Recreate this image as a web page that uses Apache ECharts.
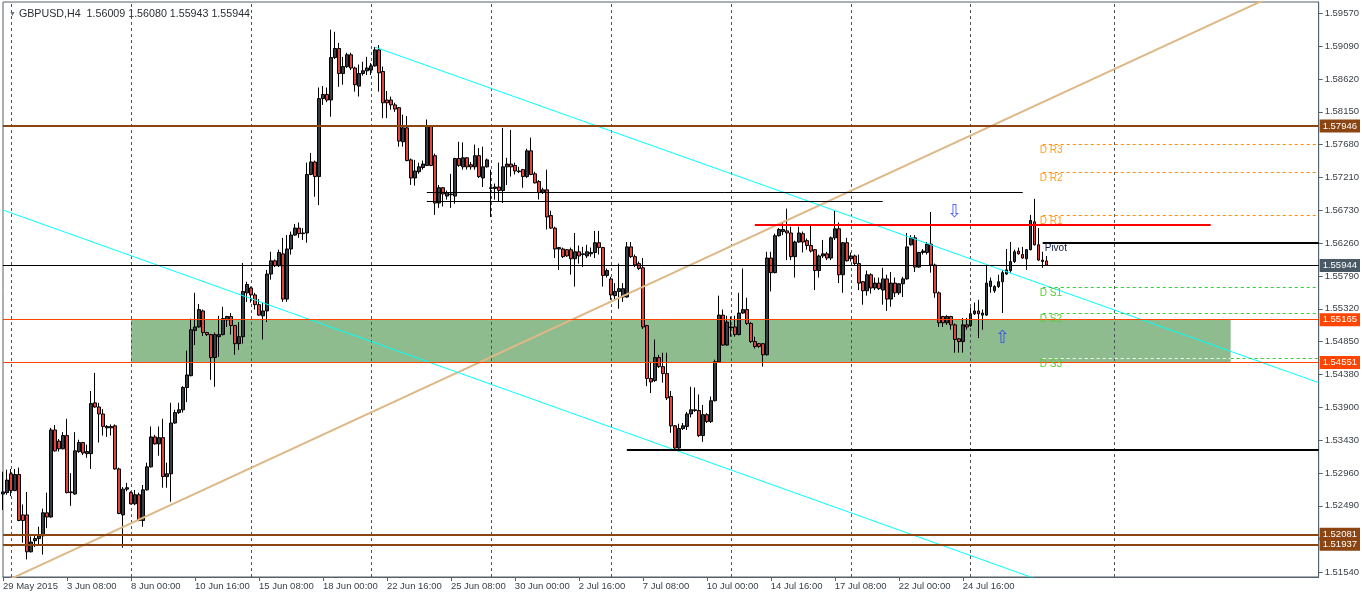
<!DOCTYPE html>
<html><head><meta charset="utf-8">
<script src="https://cdn.jsdelivr.net/npm/echarts@6/dist/echarts.min.js"></script>
<style>html,body{margin:0;padding:0;background:#fff}#c{width:1362px;height:594px}</style>
</head><body><div id="c"></div>
<script>
// ---------- DATA ----------
const titleText = 'GBPUSD,H4  1.56009 1.56080 1.55943 1.55944';
const yTicks = [1.5957,1.5909,1.5862,1.5815,1.5768,1.5721,1.5673,1.5626,1.5579,1.5532,1.5485,1.5438,1.5390,1.5343,1.5296,1.5249,1.5202,1.5154];

const opens = [
1.5266,1.5268,1.5295,1.5271,1.5294,1.5236,1.5236,1.5183,1.5199,1.5202,
1.5206,1.5239,1.5233,1.5358,1.5342,1.5331,1.5350,1.5269,1.5266,1.5327,
1.5340,1.5324,1.5324,1.5397,1.5391,1.5381,1.5361,1.5363,1.5364,1.5302,
1.5236,1.5273,1.5268,1.5252,1.5265,1.5228,1.5272,1.5305,1.5348,1.5338,
1.5347,1.5291,1.5295,1.5368,1.5383,1.5387,1.5419,1.5436,1.5501,1.5506,
1.5529,1.5498,1.5495,1.5462,1.5492,1.5495,1.5516,1.5521,1.5508,1.5482,
1.5492,1.5555,1.5562,1.5552,1.5538,1.5522,1.5529,1.5582,1.5601,1.5594,
1.5611,1.5546,1.5618,1.5638,1.5648,1.5640,1.5641,1.5725,1.5743,1.5722,
1.5834,1.5840,1.5832,1.5893,1.5906,1.5870,1.5880,1.5897,1.5878,1.5852,
1.5870,1.5874,1.5875,1.5881,1.5904,1.5873,1.5832,1.5832,1.5825,1.5821,
1.5772,1.5792,1.5746,1.5720,1.5729,1.5735,1.5738,1.5794,1.5752,1.5684,
1.5706,1.5694,1.5696,1.5694,1.5748,1.5736,1.5749,1.5739,1.5736,1.5752,
1.5720,1.5736,1.5706,1.5705,1.5707,1.5702,1.5736,1.5740,1.5738,1.5730,
1.5732,1.5722,1.5759,1.5726,1.5715,1.5699,1.5703,1.5666,1.5648,1.5618,
1.5618,1.5617,1.5617,1.5604,1.5614,1.5610,1.5608,1.5611,1.5613,1.5627,
1.5620,1.5580,1.5575,1.5551,1.5557,1.5549,1.5549,1.5621,1.5607,1.5597,
1.5591,1.5508,1.5432,1.5429,1.5462,1.5449,1.5439,1.5406,1.5364,1.5332,
1.5360,1.5363,1.5381,1.5386,1.5386,1.5350,1.5380,1.5370,1.5400,1.5456,
1.5523,1.5480,1.5505,1.5506,1.5495,1.5526,1.5531,1.5511,1.5485,1.5482,
1.5482,1.5466,1.5605,1.5584,1.5637,1.5643,1.5644,1.5641,1.5607,1.5628,
1.5640,1.5630,1.5623,1.5617,1.5587,1.5608,1.5611,1.5605,1.5634,1.5647,
1.5581,1.5627,1.5604,1.5608,1.5597,1.5571,1.5558,1.5581,1.5562,1.5569,
1.5559,1.5575,1.5546,1.5569,1.5555,1.5568,1.5575,1.5624,1.5634,1.5592,
1.5613,1.5613,1.5625,1.5595,1.5555,1.5521,1.5512,1.5521,1.5509,1.5489,
1.5485,1.5509,1.5508,1.5525,1.5529,1.5523,1.5523,1.5564,1.5558,1.5564,
1.5571,1.5582,1.5587,1.5600,1.5615,1.5610,1.5604,1.5617,1.5657,1.5624,
1.5602,1.56009];
const highs = [
1.5298,1.5301,1.5302,1.5302,1.5304,1.5251,1.5269,1.5205,1.5207,1.5219,
1.5245,1.5268,1.5361,1.5365,1.5345,1.5355,1.5374,1.5296,1.5355,1.5344,
1.5341,1.5337,1.5414,1.5440,1.5397,1.5388,1.5365,1.5366,1.5366,1.5304,
1.5276,1.5282,1.5270,1.5272,1.5268,1.5279,1.5311,1.5363,1.5351,1.5363,
1.5374,1.5311,1.5397,1.5387,1.5397,1.5421,1.5472,1.5518,1.5555,1.5539,
1.5531,1.5499,1.5496,1.5498,1.5522,1.5535,1.5522,1.5526,1.5509,1.5513,
1.5598,1.5571,1.5564,1.5555,1.5546,1.5541,1.5588,1.5614,1.5603,1.5617,
1.5634,1.5638,1.5643,1.5654,1.5656,1.5648,1.5742,1.5756,1.5745,1.5850,
1.5852,1.5850,1.5933,1.5930,1.5914,1.5894,1.5900,1.5900,1.5880,1.5883,
1.5887,1.5894,1.5885,1.5908,1.5911,1.5880,1.5845,1.5837,1.5828,1.5822,
1.5811,1.5809,1.5748,1.5746,1.5742,1.5745,1.5804,1.5795,1.5755,1.5710,
1.5707,1.5702,1.5726,1.5749,1.5772,1.5771,1.5750,1.5743,1.5768,1.5763,
1.5765,1.5748,1.5732,1.5712,1.5742,1.5792,1.5749,1.5789,1.5742,1.5736,
1.5733,1.5762,1.5778,1.5729,1.5717,1.5706,1.5732,1.5673,1.5650,1.5621,
1.5620,1.5618,1.5620,1.5641,1.5623,1.5621,1.5624,1.5620,1.5644,1.5644,
1.5621,1.5590,1.5578,1.5569,1.5597,1.5569,1.5628,1.5628,1.5610,1.5600,
1.5605,1.5509,1.5456,1.5488,1.5466,1.5469,1.5469,1.5414,1.5365,1.5367,
1.5368,1.5384,1.5420,1.5419,1.5409,1.5394,1.5382,1.5406,1.5459,1.5551,
1.5531,1.5522,1.5521,1.5522,1.5555,1.5590,1.5548,1.5513,1.5492,1.5483,
1.5483,1.5614,1.5614,1.5640,1.5648,1.5656,1.5676,1.5650,1.5630,1.5650,
1.5643,1.5633,1.5651,1.5618,1.5610,1.5631,1.5614,1.5636,1.5673,1.5656,
1.5628,1.5634,1.5613,1.5610,1.5610,1.5572,1.5587,1.5583,1.5577,1.5577,
1.5591,1.5581,1.5585,1.5577,1.5569,1.5578,1.5641,1.5638,1.5638,1.5614,
1.5618,1.5628,1.5671,1.5597,1.5557,1.5522,1.5523,1.5522,1.5511,1.5490,
1.5519,1.5519,1.5534,1.5541,1.5545,1.5531,1.5595,1.5577,1.5566,1.5581,
1.5588,1.5618,1.5628,1.5617,1.5620,1.5621,1.5618,1.5667,1.5690,1.5648,
1.5614,1.56080];
const lows = [
1.5243,1.5265,1.5263,1.5270,1.5227,1.5196,1.5172,1.5182,1.5190,1.5193,
1.5179,1.5217,1.5232,1.5327,1.5327,1.5330,1.5267,1.5249,1.5265,1.5325,
1.5322,1.5318,1.5302,1.5390,1.5340,1.5350,1.5348,1.5350,1.5301,1.5237,
1.5189,1.5270,1.5251,1.5250,1.5227,1.5219,1.5271,1.5304,1.5337,1.5321,
1.5275,1.5275,1.5255,1.5367,1.5381,1.5383,1.5398,1.5435,1.5480,1.5505,
1.5493,1.5493,1.5430,1.5420,1.5463,1.5494,1.5506,1.5495,1.5466,1.5473,
1.5482,1.5542,1.5541,1.5531,1.5522,1.5488,1.5513,1.5574,1.5592,1.5592,
1.5542,1.5542,1.5610,1.5637,1.5634,1.5631,1.5627,1.5724,1.5693,1.5681,
1.5825,1.5829,1.5808,1.5891,1.5851,1.5854,1.5878,1.5875,1.5844,1.5837,
1.5867,1.5868,1.5868,1.5880,1.5844,1.5806,1.5806,1.5818,1.5815,1.5765,
1.5765,1.5744,1.5710,1.5709,1.5726,1.5732,1.5737,1.5737,1.5667,1.5677,
1.5679,1.5689,1.5677,1.5683,1.5736,1.5732,1.5732,1.5732,1.5732,1.5720,
1.5707,1.5735,1.5664,1.5689,1.5686,1.5684,1.5710,1.5722,1.5725,1.5727,
1.5706,1.5720,1.5724,1.5712,1.5689,1.5697,1.5646,1.5647,1.5605,1.5588,
1.5605,1.5607,1.5581,1.5564,1.5597,1.5592,1.5605,1.5607,1.5605,1.5610,
1.5564,1.5577,1.5545,1.5545,1.5532,1.5542,1.5548,1.5605,1.5592,1.5588,
1.5503,1.5421,1.5411,1.5427,1.5447,1.5426,1.5401,1.5354,1.5331,1.5331,
1.5358,1.5358,1.5376,1.5384,1.5348,1.5341,1.5368,1.5368,1.5399,1.5455,
1.5479,1.5479,1.5492,1.5492,1.5494,1.5525,1.5509,1.5483,1.5475,1.5476,
1.5449,1.5465,1.5557,1.5583,1.5636,1.5638,1.5602,1.5602,1.5577,1.5627,
1.5613,1.5617,1.5613,1.5559,1.5577,1.5605,1.5602,1.5602,1.5631,1.5569,
1.5555,1.5600,1.5600,1.5595,1.5559,1.5538,1.5551,1.5554,1.5559,1.5559,
1.5538,1.5529,1.5535,1.5549,1.5552,1.5549,1.5574,1.5623,1.5585,1.5591,
1.5610,1.5610,1.5584,1.5548,1.5506,1.5506,1.5509,1.5502,1.5469,1.5469,
1.5469,1.5502,1.5506,1.5523,1.5490,1.5502,1.5522,1.5555,1.5555,1.5562,
1.5526,1.5581,1.5584,1.5598,1.5610,1.5604,1.5588,1.5616,1.5623,1.5601,
1.5591,1.55943];
const closes = [
1.5269,1.5286,1.5271,1.5294,1.5228,1.5228,1.5183,1.5197,1.5202,1.5206,
1.5239,1.5233,1.5358,1.5328,1.5331,1.5350,1.5268,1.5268,1.5328,1.5340,
1.5325,1.5327,1.5396,1.5391,1.5381,1.5363,1.5363,1.5361,1.5302,1.5238,
1.5273,1.5275,1.5252,1.5265,1.5228,1.5272,1.5305,1.5348,1.5338,1.5347,
1.5291,1.5295,1.5368,1.5383,1.5387,1.5419,1.5437,1.5502,1.5506,1.5531,
1.5498,1.5495,1.5462,1.5495,1.5495,1.5518,1.5521,1.5508,1.5482,1.5492,
1.5557,1.5567,1.5552,1.5538,1.5523,1.5529,1.5582,1.5601,1.5594,1.5613,
1.5546,1.5618,1.5638,1.5648,1.5640,1.5641,1.5725,1.5743,1.5722,1.5834,
1.5840,1.5832,1.5893,1.5906,1.5870,1.5880,1.5897,1.5878,1.5854,1.5870,
1.5874,1.5878,1.5881,1.5904,1.5871,1.5828,1.5828,1.5825,1.5819,1.5773,
1.5792,1.5745,1.5720,1.5730,1.5736,1.5740,1.5794,1.5738,1.5684,1.5706,
1.5697,1.5699,1.5697,1.5748,1.5738,1.5749,1.5736,1.5736,1.5752,1.5722,
1.5736,1.5746,1.5705,1.5707,1.5702,1.5736,1.5740,1.5736,1.5730,1.5729,
1.5722,1.5759,1.5725,1.5713,1.5699,1.5703,1.5664,1.5648,1.5618,1.5620,
1.5607,1.5608,1.5604,1.5614,1.5608,1.5611,1.5614,1.5613,1.5627,1.5620,
1.5580,1.5587,1.5552,1.5557,1.5561,1.5561,1.5621,1.5607,1.5595,1.5590,
1.5506,1.5432,1.5427,1.5462,1.5449,1.5439,1.5404,1.5364,1.5332,1.5360,
1.5364,1.5381,1.5387,1.5387,1.5350,1.5380,1.5370,1.5400,1.5456,1.5523,
1.5480,1.5513,1.5506,1.5495,1.5526,1.5531,1.5511,1.5485,1.5478,1.5478,
1.5466,1.5605,1.5584,1.5637,1.5646,1.5646,1.5641,1.5607,1.5628,1.5641,
1.5628,1.5623,1.5615,1.5587,1.5608,1.5611,1.5605,1.5634,1.5647,1.5581,
1.5627,1.5601,1.5608,1.5597,1.5569,1.5558,1.5581,1.5562,1.5569,1.5561,
1.5575,1.5546,1.5569,1.5555,1.5568,1.5575,1.5621,1.5634,1.5592,1.5613,
1.5615,1.5625,1.5595,1.5555,1.5512,1.5512,1.5521,1.5509,1.5488,1.5485,
1.5509,1.5506,1.5525,1.5529,1.5525,1.5526,1.5569,1.5572,1.5564,1.5571,
1.5584,1.5588,1.5600,1.5614,1.5611,1.5605,1.5617,1.5659,1.5624,1.5602,
1.5600,1.55944];

// objects drawn on the chart (bar index, price)
const weekStartBars = [2,32,62,92,122,152,182,212,242,278];
const keyLevels = [1.57946, 1.52081, 1.51937];
const zoneLevels = [1.55165, 1.54551];
const zoneBars = [32, 307];
const bidLevel = 1.55944;
const segPrices = [1.5700, 1.5686, 1.5330];
const segFrom = [106, 106, 156];
const segTo = [255, 220, 329];
const redLine = [1.5653, 188, 302];
const pivotNames = ['D R3','D R2','D R1','Pivot','D S1','D S2','D S3'];
const pivotValues = [1.5769, 1.5728, 1.5666, 1.5627, 1.5563, 1.5525, 1.5461];
const pivotStartBar = 260;
const trendTan = [[0, 1.5139], [329, 1.6012]];
const channelUpper = [[93, 1.5908], [329, 1.5426]];
const channelLower = [[0, 1.5674], [329, 1.4999]];
const arrowBars = [238, 250];
const arrowPrices = [1.5670, 1.5490];
const arrowGlyphs = ['\u21E9', '\u21E7'];

// ---------- categories (H4 bars, weekends skipped) ----------
const MONTHS = ['Jan','Feb','Mar','Apr','May','Jun','Jul','Aug','Sep'];
const N_SLOTS = 330;
const categories = [];
for (let t = Date.UTC(2015, 4, 29, 16); categories.length < N_SLOTS; t += 4 * 3600e3) {
  const d = new Date(t), wd = d.getUTCDay();
  if (wd === 0 || wd === 6) continue;
  const hh = String(d.getUTCHours()).padStart(2, '0');
  categories.push(categories.length === 0 ? '29 May 2015' : d.getUTCDate() + ' ' + MONTHS[d.getUTCMonth()] + ' ' + hh + ':00');
}
const LAST = N_SLOTS - 1;
const NBARS = opens.length;
const cat = i => categories[i];

// ---------- chart ----------
const FONT = '"Liberation Sans", Arial, sans-serif';
const AX = '#56616b';
const ohlc = opens.map((o, i) => [o, closes[i], lows[i], highs[i]]);

const endLabel = (txt, bg) => ({
  show: true, position: 'end', formatter: txt, color: '#fff', backgroundColor: bg,
  padding: [2, 3, 1, 3], fontSize: 9.5, fontFamily: FONT, distance: 1
});

const levelLines = [];
keyLevels.forEach(p => levelLines.push({ yAxis: p, lineStyle: { color: '#8B4513', width: 2, type: 'solid' }, label: endLabel(p.toFixed(5), '#8B4513') }));
zoneLevels.forEach(p => levelLines.push({ yAxis: p, lineStyle: { color: '#FF4500', width: 1, type: 'solid' }, label: endLabel(p.toFixed(5), '#FF4500') }));
levelLines.push({ yAxis: bidLevel, lineStyle: { color: '#000', width: 1, type: 'solid' }, label: endLabel(bidLevel.toFixed(5), '#4a5966') });
segPrices.forEach((p, i) => levelLines.push([
  { coord: [cat(segFrom[i]), p], lineStyle: { color: '#000', width: i === 2 ? 2 : 1, type: 'solid' }, label: { show: false } },
  { coord: [cat(segTo[i]), p] }
]));
levelLines.push([
  { coord: [cat(redLine[1]), redLine[0]], lineStyle: { color: '#FF0000', width: 2, type: 'solid' }, label: { show: false } },
  { coord: [cat(redLine[2]), redLine[0]] }
]);
pivotNames.forEach((nm, i) => {
  const isPivot = nm === 'Pivot';
  const isR = nm.indexOf('R') >= 0;
  const col = isPivot ? '#000' : (isR ? '#FF8C00' : '#32CD32');
  const txtCol = isPivot ? '#101a48' : (isR ? '#FFA020' : '#5ACD32');
  const endBar = (nm === 'D S3') ? zoneBars[1] : LAST;
  levelLines.push([
    { coord: [cat(pivotStartBar), pivotValues[i]],
      lineStyle: { color: nm === 'D S3' ? '#f0fff0' : col, width: isPivot ? 2 : 1, type: isPivot ? 'solid' : [3, 3] },
      label: { show: true, position: 'insideStartBottom', formatter: nm, color: txtCol, fontSize: 10, fontFamily: FONT, distance: [isPivot ? 2 : -3, 1] } },
    { coord: [cat(endBar), pivotValues[i]] }
  ]);
  if (nm === 'D S3') {
    levelLines.push([
      { coord: [cat(zoneBars[1]), pivotValues[i]], lineStyle: { color: col, width: 1, type: [3, 3] }, label: { show: false } },
      { coord: [cat(LAST), pivotValues[i]] }
    ]);
  }
});

const trend = (pts, color, width) => ({
  type: 'line', data: pts.map(p => [cat(p[0]), p[1]]), showSymbol: false, symbol: 'none',
  lineStyle: { color, width }, silent: true, z: 4, clip: true, animation: false
});

const option = {
  animation: false,
  backgroundColor: '#ffffff',
  title: {
    text: '{tri|\u25BC} ' + titleText, left: 4, top: 4,
    textStyle: { fontSize: 10.7, fontWeight: 'normal', color: '#2a2f35', fontFamily: FONT,
      rich: { tri: { fontSize: 7, color: '#6b747c' } } }
  },
  grid: { left: 3, right: 43, top: 2, bottom: 17, show: true, borderColor: AX, borderWidth: 1, backgroundColor: '#fff' },
  xAxis: {
    type: 'category', data: categories, boundaryGap: false,
    axisLine: { show: true, lineStyle: { color: AX, width: 1 } },
    axisTick: { show: true, interval: i => i % 16 === 0 && i < NBARS, length: 4, lineStyle: { color: AX } },
    axisLabel: { interval: i => i % 16 === 0 && i < NBARS, align: 'left', margin: 4, fontSize: 9.5, color: '#3a4148', fontFamily: FONT, showMaxLabel: false, showMinLabel: true },
    splitLine: { show: false }
  },
  yAxis: {
    type: 'value', position: 'right', min: 1.51468, max: 1.59728,
    axisLine: { show: true, lineStyle: { color: AX, width: 1 } },
    axisTick: { show: true, customValues: yTicks, length: 4, lineStyle: { color: AX } },
    axisLabel: { customValues: yTicks, formatter: v => v.toFixed(5), fontSize: 9.5, margin: 6, color: '#3a4148', fontFamily: FONT },
    splitLine: { show: false }
  },
  series: [
    {
      type: 'line', data: [], silent: true,
      markArea: { silent: true, z: 1, itemStyle: { color: '#8fbc8f', opacity: 1 },
        data: [[{ coord: [cat(zoneBars[0]), zoneLevels[0]] }, { coord: [cat(zoneBars[1]), zoneLevels[1]] }]] },
      markLine: { silent: true, z: 1.5, precision: 6, symbol: ['none', 'none'], label: { show: false },
        lineStyle: { color: '#4b535b', width: 1, type: [3, 3] },
        data: weekStartBars.map(b => ({ xAxis: cat(b) })) }
    },
    {
      type: 'candlestick', data: ohlc, barWidth: 3, z: 2, silent: true,
      itemStyle: { color: '#353c42', color0: '#e0443e', borderColor: '#000', borderColor0: '#000', borderWidth: 1 }
    },
    trend(trendTan, '#DEB887', 2),
    trend(channelUpper, '#00FFFF', 1),
    trend(channelLower, '#00FFFF', 1),
    {
      type: 'line', data: [], silent: true,
      markLine: { silent: true, z: 5, precision: 6, symbol: ['none', 'none'], data: levelLines }
    },
    {
      type: 'scatter', silent: true, z: 6, symbolSize: 2,
      itemStyle: { color: 'transparent' },
      data: arrowBars.map((b, i) => [cat(b), arrowPrices[i]]),
      label: { show: true, position: 'inside', formatter: p => arrowGlyphs[p.dataIndex], color: '#2438ff', fontSize: 18, fontFamily: '"DejaVu Sans", sans-serif' }
    }
  ]
};
const chart = echarts.init(document.getElementById('c'), null, { renderer: 'canvas' });
chart.setOption(option);
</script></body></html>
